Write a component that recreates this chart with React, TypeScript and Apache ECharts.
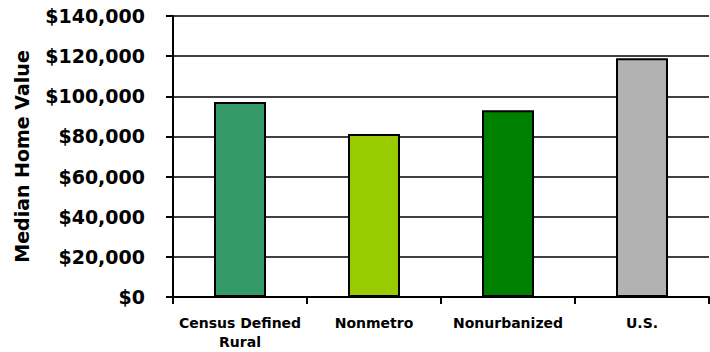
import React, { useEffect, useRef } from "react";
import * as echarts from "echarts";

// Median home value by area type
const categories = ["Census Defined\nRural", "Nonmetro", "Nonurbanized", "U.S."];
const medianValues = [97200, 81200, 93100, 119000];
const barColors = ["#339966", "#99CC00", "#008000", "#B2B2B2"];
const yTicks = { min: 0, max: 140000, step: 20000 };

const FONT = "'DejaVu Sans', Verdana, sans-serif";

export default function App() {
  const ref = useRef<HTMLDivElement>(null);

  useEffect(() => {
    if (!ref.current) return;
    const chart = echarts.init(ref.current, undefined, { renderer: "svg" });
    chart.setOption({
      animation: false,
      backgroundColor: "#ffffff",
      grid: { left: 173, right: 1, top: 16, bottom: 55, containLabel: false },
      xAxis: {
        type: "category",
        data: categories,
        axisLine: { show: true, lineStyle: { color: "#000", width: 2 } },
        axisTick: { show: true, alignWithLabel: false, length: 7, lineStyle: { color: "#000", width: 2 } },
        axisLabel: {
          color: "#000",
          fontFamily: FONT,
          fontWeight: "bold",
          fontSize: 14,
          lineHeight: 19,
          margin: 16,
          interval: 0,
        },
        splitLine: { show: false },
      },
      yAxis: {
        type: "value",
        min: yTicks.min,
        max: yTicks.max,
        interval: yTicks.step,
        name: "Median Home Value",
        nameLocation: "middle",
        nameGap: 142,
        nameTextStyle: { color: "#000", fontFamily: FONT, fontWeight: "bold", fontSize: 19 },
        axisLine: { show: true, lineStyle: { color: "#000", width: 2 } },
        axisTick: { show: true, length: 7, lineStyle: { color: "#000", width: 2 } },
        axisLabel: {
          color: "#000",
          fontFamily: FONT,
          fontWeight: "bold",
          fontSize: 19,
          margin: 28,
          formatter: (v: number) => "$" + v.toLocaleString("en-US"),
        },
        splitLine: { show: true, lineStyle: { color: "#000", width: 1.5 } },
      },
      series: [
        {
          type: "bar",
          barWidth: 52,
          data: medianValues.map((v, i) => ({
            value: v,
            itemStyle: { color: barColors[i], borderColor: "#000", borderWidth: 2 },
          })),
        },
      ],
    });
    return () => chart.dispose();
  }, []);

  return (
    <div
      ref={ref}
      style={{ position: "fixed", left: 0, top: 0, width: 710, height: 352, background: "#fff" }}
    />
  );
}
